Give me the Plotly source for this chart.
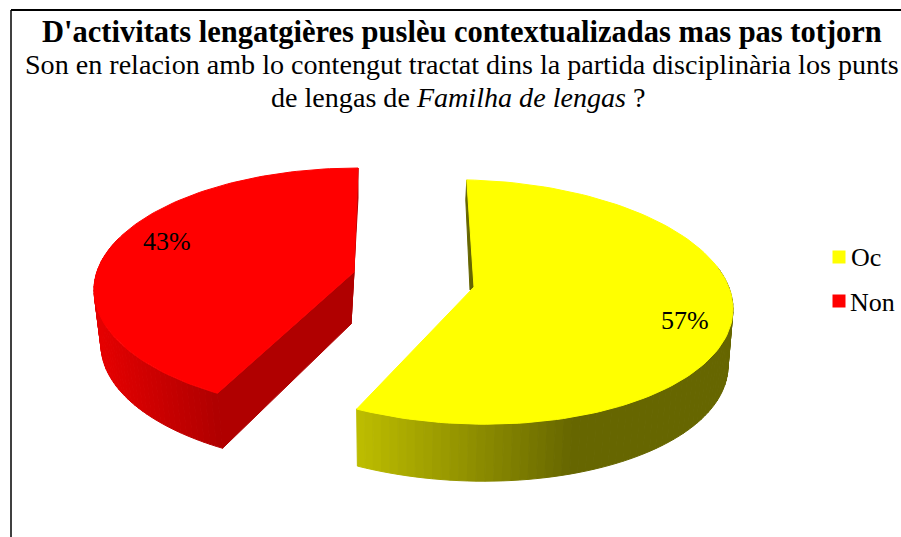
import math
import plotly.graph_objects as go

categories = ["Oc", "Non"]
percent_values = [57, 43]
slice_colors = ["#ffff00", "#ff0000"]
title_bold = "D'activitats lengatgières puslèu contextualizadas mas pas totjorn"
title_line2 = "Son en relacion amb lo contengut tractat dins la partida disciplinària los punts"
title_line3 = "de lengas de <i>Familha de lengas</i> ?"

FONT = "Liberation Serif"
W, H = 901, 537
fig = go.Figure()


def poly(pts, color, line=None):
    fig.add_trace(go.Scatter(
        x=[p[0] for p in pts] + [pts[0][0]], y=[p[1] for p in pts] + [pts[0][1]],
        mode="lines", fill="toself", fillcolor=color,
        line=dict(color=line or color, width=1), hoverinfo="skip", showlegend=False))


def ell(e, deg):
    r = math.radians(deg)
    return (e["cx"] + e["a"] * math.sin(r),
            e["cy"] - e["b"] * math.cos(r) + e["s"] * math.sin(r))


def frange(a, b, n):
    return [a + (b - a) * i / n for i in range(n + 1)]


def lerp_color(x, x0, c0, x1, c1):
    f = max(0, min(1, (x - x0) / (x1 - x0)))
    c = [round(p + (q - p) * f) for p, q in zip(c0, c1)]
    return f"rgb({c[0]},{c[1]},{c[2]})"


# slice angular extents from the values
oc_span = percent_values[0] / sum(percent_values) * 360
non_span = percent_values[1] / sum(percent_values) * 360

# ---- Yellow (Oc)
top_y = dict(cx=470, cy=302, a=263, b=122, s=7)
low_y = dict(cx=469, cy=359, a=259, b=122, s=7)
start_y = -0.7
end_y = start_y + oc_span * 1.005
apex_y = (474, 287)
steps = 70
angles = frange(end_y, 70, steps)
for t0, t1 in zip(angles[:-1], angles[1:]):
    u0, u1, l0, l1 = ell(top_y, t0), ell(top_y, t1), ell(low_y, t0), ell(low_y, t1)
    col = lerp_color(u0[0], 357, (188, 188, 0), 570, (102, 102, 0))
    poly([u0, u1, l1, l0], col)
# thin inner wall behind the yellow slice
s0 = ell(top_y, start_y)
poly([s0, (s0[0] - 1, s0[1] + 20), (apex_y[0] - 4, apex_y[1] + 3), apex_y], "#666600")
poly([apex_y] + [ell(top_y, t) for t in frange(start_y, end_y, 120)], slice_colors[0])

# ---- Red (Non)
top_r = dict(cx=358, cy=290, a=264, b=122, s=0)
low_r = dict(cx=361, cy=345, a=260, b=122, s=0)
warp = 0.955
start_r = 360 - non_span * warp
apex_r = (354, 272)
low_apex_r = (351, 324)
tip = ell(top_r, start_r)
low_tip = ell(low_r, start_r)
angles = frange(start_r, 295, 50)
for t0, t1 in zip(angles[:-1], angles[1:]):
    u0, u1, l0, l1 = ell(top_r, t0), ell(top_r, t1), ell(low_r, t0), ell(low_r, t1)
    col = lerp_color(u0[0], 100, (228, 0, 0), 218, (176, 0, 0))
    poly([u0, u1, l1, l0], col)
poly([tip, apex_r, low_apex_r, low_tip], "#b00000")
r_end = ell(top_r, 360)
poly([r_end, (r_end[0], r_end[1] + 30), low_apex_r, apex_r], "#b00000")
poly([apex_r] + [ell(top_r, t) for t in frange(start_r, 360, 120)], slice_colors[1])

# ---- Legend
legend_marker_pos = [(839, 257), (839, 301)]
legend_text_pos = [(849, 257), (848, 302)]
for col, (lx, ly) in zip(slice_colors, legend_marker_pos):
    fig.add_trace(go.Scatter(
        x=[lx], y=[ly], mode="markers",
        marker=dict(symbol="square", size=13, color=col),
        hoverinfo="skip", showlegend=False))

# ---- Data labels
label_pos = [(685, 320), (167, 241)]
annotations = [
    dict(x=x, y=y, text=f"{v}%", showarrow=False, xref="x", yref="y",
         font=dict(family=FONT, size=26, color="#000000"))
    for v, (x, y) in zip(percent_values, label_pos)
]
annotations += [
    dict(x=x, y=y, text=name, showarrow=False, xref="x", yref="y", xanchor="left",
         font=dict(family=FONT, size=26, color="#000000"))
    for name, (x, y) in zip(categories, legend_text_pos)
]
annotations += [
    dict(x=462, y=32, text=f"<b>{title_bold}</b>", showarrow=False, xref="x", yref="y",
         font=dict(family=FONT, size=30.5, color="#000000")),
    dict(x=462, y=64, text=title_line2, showarrow=False, xref="x", yref="y",
         font=dict(family=FONT, size=28.1, color="#000000")),
    dict(x=458, y=97, text=title_line3, showarrow=False, xref="x", yref="y",
         font=dict(family=FONT, size=28.1, color="#000000")),
]

# ---- Frame
line = dict(color="#000000", width=2)
shapes = [
    dict(type="line", xref="x", yref="y", x0=11, x1=W, y0=10, y1=10, line=line),
    dict(type="line", xref="x", yref="y", x0=11, x1=11, y0=10, y1=H, line=dict(color="#000000", width=1.5)),
]

fig.update_layout(
    width=W, height=H, margin=dict(l=0, r=0, t=0, b=0),
    paper_bgcolor="#ffffff", plot_bgcolor="#ffffff", showlegend=False,
    xaxis=dict(range=[0, W], visible=False, fixedrange=True),
    yaxis=dict(range=[H, 0], visible=False, fixedrange=True),
    annotations=annotations, shapes=shapes,
)
fig.write_html("out.html", config={"displayModeBar": False},
               post_script="document.body.style.margin='0';document.body.style.overflow='hidden';")
